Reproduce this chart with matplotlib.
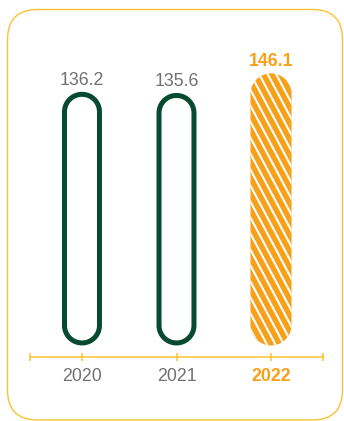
import numpy as np
import matplotlib
matplotlib.use("Agg")
import matplotlib.pyplot as plt
from matplotlib.patches import FancyBboxPatch, Polygon
from matplotlib.transforms import IdentityTransform

plt.rcParams['font.family'] = ['Liberation Sans', 'DejaVu Sans']

years = ["2020", "2021", "2022"]
values = [136.2, 135.6, 146.1]
highlight = [False, False, True]

green = "#064a31"
orange = "#f7a11a"
gray = "#707173"
yellow = "#fbc231"

fig = plt.figure(figsize=(3.44, 4.21), dpi=100)
ax = fig.add_axes([30 / 344, 64 / 421, 293 / 344, 327 / 421])
ax.set_xlim(-0.55, 2.55)
ax.set_ylim(-6.2, 169.4)

# pixel scale of the data units, so the capsule ends stay round
sx = ax.transData.transform((1, 0))[0] - ax.transData.transform((0, 0))[0]
sy = ax.transData.transform((0, 1))[1] - ax.transData.transform((0, 0))[1]


def capsule(xc, y0, y1, w, **kw):
    rx = w / 2
    ry = rx * sx / sy
    t = np.linspace(0, np.pi, 40)
    top = np.column_stack([xc + rx * np.cos(t), y1 - ry + ry * np.sin(t)])
    bot = np.column_stack([xc - rx * np.cos(t), y0 + ry - ry * np.sin(t)])
    return Polygon(np.vstack([top, bot]), closed=True, **kw)


lw_px = 5.0
xs = np.arange(len(years))
for x, v, hl in zip(xs, values, highlight):
    if hl:
        w = 0.435
        bar = capsule(x, 0, v, w, facecolor=orange, edgecolor="none", zorder=2)
        ax.add_patch(bar)
        # white diagonal stripes clipped to the bar
        step = 8.5 / sx
        slope = 1.88 * sx / sy
        for x0 in np.arange(x - w / 2 - v / slope, x + w / 2 + step, step):
            ax.plot([x0, x0 + v / slope], [v, 0], color="white", lw=1.5,
                    solid_capstyle="butt", zorder=3, clip_path=bar)
        ax.annotate(f"{v:.1f}", (x, v), xytext=(0, 5), textcoords="offset points",
                    ha="center", va="baseline", fontsize=12.8, fontweight="bold",
                    color=orange)
    else:
        w = 0.423 - lw_px / sx
        bar = capsule(x, lw_px / 2 / sy, v - lw_px / 2 / sy, w,
                      facecolor="none", edgecolor=green,
                      linewidth=lw_px * 0.72, zorder=2)
        ax.add_patch(bar)
        ax.annotate(f"{v:.1f}", (x, v), xytext=(0, 5), textcoords="offset points",
                    ha="center", va="baseline", fontsize=12.8, color=gray)

for s in ["top", "left", "right"]:
    ax.spines[s].set_visible(False)
ax.spines["bottom"].set_color(yellow)
ax.spines["bottom"].set_linewidth(1.1)
ax.set_yticks([])
ax.set_xticks(xs)
ax.set_xticklabels(years)
ax.set_xticks([-0.55, 2.55], minor=True)
ax.tick_params(axis="x", which="both", direction="inout", length=6, width=1.1,
               color=yellow)
ax.tick_params(axis="x", which="major", pad=5, labelsize=12.8, labelcolor=gray)
for lab, hl in zip(ax.get_xticklabels(), highlight):
    if hl:
        lab.set_color(orange)
        lab.set_fontweight("bold")

frame = FancyBboxPatch((7.5, 1.0), 335, 410.5,
                       boxstyle="round,pad=0,rounding_size=30",
                       transform=IdentityTransform(),
                       facecolor="none", edgecolor=yellow, linewidth=1.0)
fig.add_artist(frame)

fig.savefig("out.png", dpi=100)
